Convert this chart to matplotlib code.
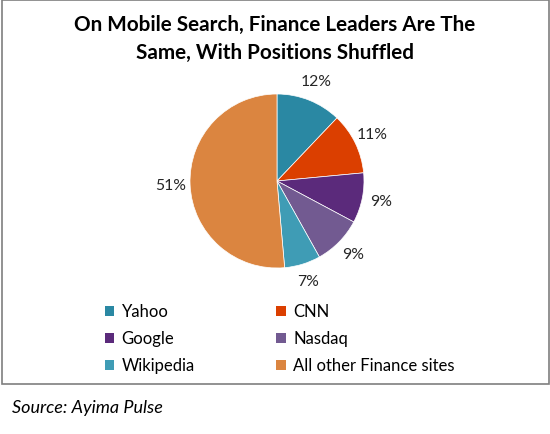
import matplotlib.pyplot as plt
from matplotlib.patches import Patch, Rectangle

plt.rcParams['font.family'] = ['Lato', 'DejaVu Sans']

sites = ["Yahoo", "CNN", "Google", "Nasdaq", "Wikipedia", "All other Finance sites"]
shares = [12.1, 11.4, 9.3, 9.1, 6.7, 51.4]
colors = ["#2A88A3", "#DB3F00", "#5B2A7B", "#725A91", "#3F9CB5", "#DB8540"]

title = "On Mobile Search, Finance Leaders Are The\nSame, With Positions Shuffled"
source = "Source: Ayima Pulse"

fig = plt.figure(figsize=(5.5, 4.34), dpi=100)
ax = fig.add_axes([0, 0, 1, 1])

# chart frame
ax.add_patch(Rectangle((2, 50), 547, 384, fill=False, edgecolor="#7f7f7f", linewidth=1.2))

wedges, texts, autotexts = ax.pie(
    shares, colors=colors, startangle=90, counterclock=False,
    center=(277, 253), radius=87, autopct="%.0f%%", pctdistance=1.22,
    wedgeprops=dict(edgecolor="white", linewidth=0.5),
    textprops=dict(fontsize=11.3, color="#262626"), frame=True,
)
ax.set_xlim(0, 550)
ax.set_ylim(0, 434)
ax.set_aspect("equal")
ax.axis("off")

ax.text(275, 395.5, title, ha="center", va="center", fontsize=14.9,
        fontweight="bold", linespacing=1.5, color="black")

# legend filled row by row like the original (two columns)
order = [0, 2, 4, 1, 3, 5]
handles = [Patch(facecolor=colors[i], edgecolor="none") for i in order]
labels = [sites[i] for i in order]
ax.legend(handles, labels, ncol=2, loc="upper left", bbox_to_anchor=(96.5 / 550, 1 - 296 / 434),
          frameon=False, fontsize=12, handlelength=0.55, handleheight=0.55,
          handletextpad=0.45, columnspacing=4.9, labelspacing=0.66, borderpad=0)

ax.text(12, 26, source, ha="left", va="center", fontsize=13, style="italic", color="black")

fig.savefig("out.png", dpi=100)
